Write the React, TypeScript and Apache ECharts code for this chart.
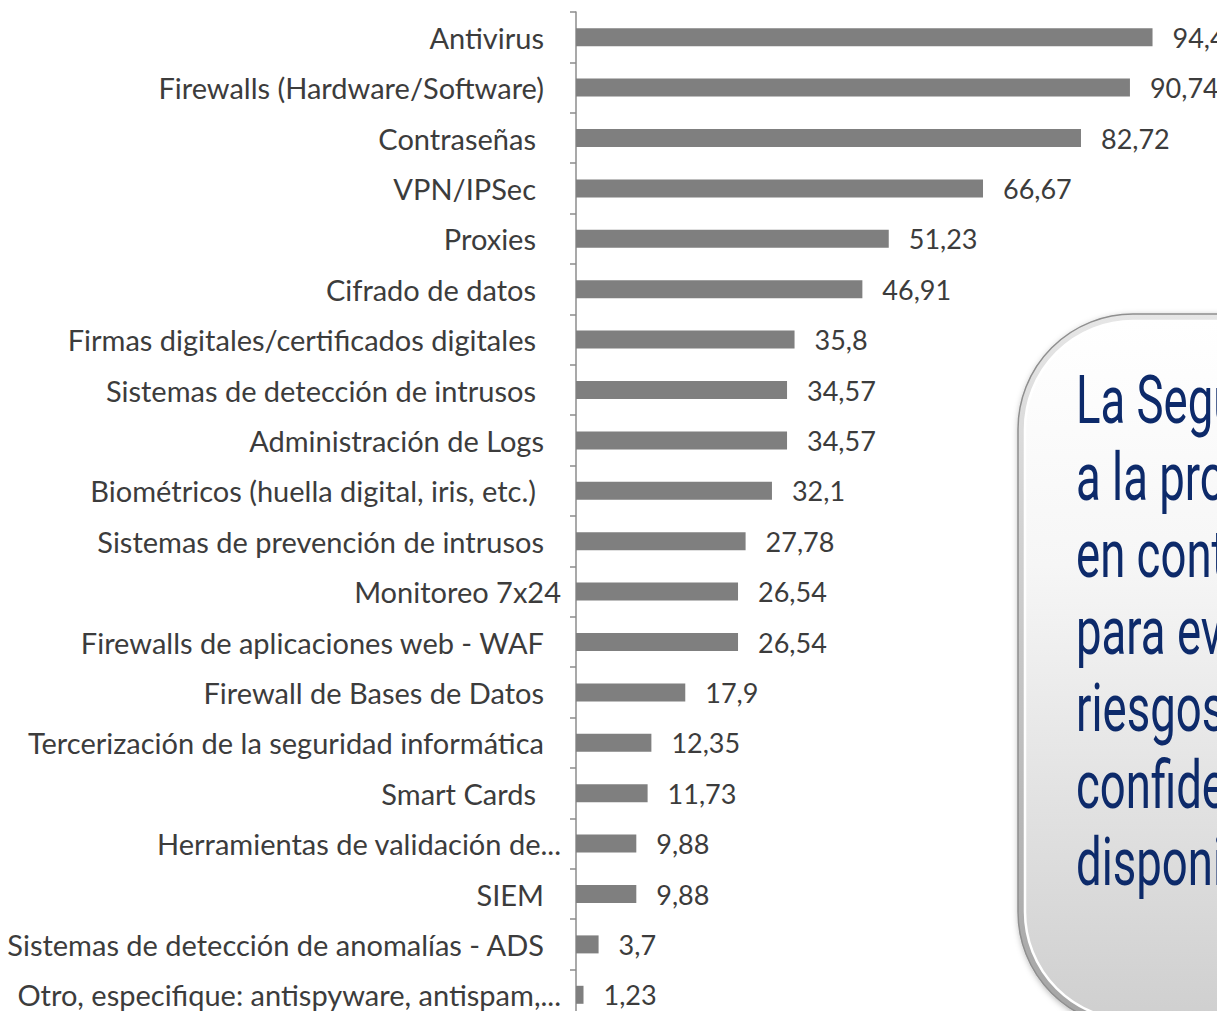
import React, { useEffect, useRef } from "react";
import * as echarts from "echarts";

const categories = [
  "Antivirus",
  "Firewalls (Hardware/Software)",
  "Contraseñas",
  "VPN/IPSec",
  "Proxies",
  "Cifrado de datos",
  "Firmas digitales/certificados digitales",
  "Sistemas de detección de intrusos",
  "Administración de Logs",
  "Biométricos (huella digital, iris, etc.)",
  "Sistemas de prevención de intrusos",
  "Monitoreo 7x24",
  "Firewalls de aplicaciones web - WAF",
  "Firewall de Bases de Datos",
  "Tercerización de la seguridad informática",
  "Smart Cards",
  "Herramientas de validación de...",
  "SIEM",
  "Sistemas de detección de anomalías - ADS",
  "Otro, especifique: antispyware, antispam,...",
];

const values = [
  94.44, 90.74, 82.72, 66.67, 51.23, 46.91, 35.8, 34.57, 34.57, 32.1, 27.78,
  26.54, 26.54, 17.9, 12.35, 11.73, 9.88, 9.88, 3.7, 1.23,
];

// label end offsets: "w" = ends closer to the axis, "n" = normal, "s" = shorter
const labelStyleKeys = [
  "n", "n", "s", "s", "s", "s", "s", "s", "n", "s",
  "n", "w", "n", "n", "n", "s", "w", "n", "n", "w",
];

const boxLines = [
  "La Seguridad",
  "a la protección",
  "en contra",
  "para evitar",
  "riesgos",
  "confidencialidad",
  "disponibilidad",
];

export default function App() {
  const ref = useRef<HTMLDivElement>(null);

  useEffect(() => {
    if (!ref.current) return;
    const chart = echarts.init(ref.current, undefined, { renderer: "svg" });

    const textFont = "Lato";
    const lineX = 1076;
    const firstBaseline = 423;
    const lineGap = 77;
    const fs = 66;

    const textEls: any[] = boxLines.map((t, i) => ({
      type: "text",
      x: lineX,
      y: firstBaseline + i * lineGap - 23,
      scaleX: 0.69,
      z: 102,
      style: {
        text: t,
        fill: "#0d2a6a",
        fontFamily: "Roboto",
        fontSize: fs,
        fontWeight: 400,
        textAlign: "left",
        verticalAlign: "middle",
        shadowColor: "rgba(0,0,0,0.3)",
        shadowBlur: 2,
        shadowOffsetX: 1.5,
        shadowOffsetY: 2,
      },
    }));

    chart.setOption({
      animation: false,
      backgroundColor: "#ffffff",
      grid: {
        left: 576,
        right: 0,
        top: 12,
        height: 1008,
        containLabel: false,
        outerBoundsMode: "none",
      },
      xAxis: {
        type: "value",
        min: 0,
        max: 105,
        show: false,
      },
      yAxis: {
        type: "category",
        inverse: true,
        data: categories,
        axisLine: { show: true, lineStyle: { color: "#8c8c8c", width: 1.5 } },
        axisTick: { show: true, length: 6, lineStyle: { color: "#8c8c8c", width: 1.5 } },
        axisLabel: {
          margin: 15,
          color: "#3c3c3c",
          fontFamily: textFont,
          fontSize: 29,
          formatter: (v: string, idx: number) => `{${labelStyleKeys[idx]}|${v}}`,
          rich: {
            w: { padding: [0, 0, 0, 0] },
            n: { padding: [0, 17, 0, 0] },
            s: { padding: [0, 25, 0, 0] },
          },
        },
        splitLine: { show: false },
      },
      series: [
        {
          type: "bar",
          data: values,
          barWidth: 18,
          itemStyle: { color: "#7f7f7f" },
          label: {
            show: true,
            position: "right",
            distance: 20,
            color: "#3c3c3c",
            fontFamily: textFont,
            fontSize: 27,
            formatter: (p: any) => String(p.value).replace(".", ","),
          },
        },
      ],
      graphic: [
        {
          type: "rect",
          z: 100,
          shape: { x: 1018, y: 314, width: 420, height: 713, r: 115 },
          style: {
            fill: {
              type: "linear",
              x: 0, y: 0, x2: 0, y2: 1,
              colorStops: [
                { offset: 0, color: "#e6e6e6" },
                { offset: 1, color: "#a4a4a4" },
              ],
            },
            stroke: "#8f8f8f",
            lineWidth: 1.5,
            shadowColor: "rgba(0,0,0,0.3)",
            shadowBlur: 6,
            shadowOffsetX: 1,
            shadowOffsetY: 2,
          },
        },
        {
          type: "rect",
          z: 101,
          shape: { x: 1025, y: 321, width: 406, height: 699, r: 108 },
          style: {
            fill: {
              type: "linear",
              x: 0, y: 0, x2: 0, y2: 1,
              colorStops: [
                { offset: 0, color: "#ffffff" },
                { offset: 0.35, color: "#f6f6f6" },
                { offset: 1, color: "#cfcfcf" },
              ],
            },
            stroke: "#ffffff",
            lineWidth: 2.5,
          },
        },
        ...textEls,
      ],
    });

    return () => chart.dispose();
  }, []);

  return (
    <div
      ref={ref}
      style={{ position: "fixed", left: 0, top: 0, width: 1217, height: 1011, overflow: "hidden" }}
    />
  );
}
